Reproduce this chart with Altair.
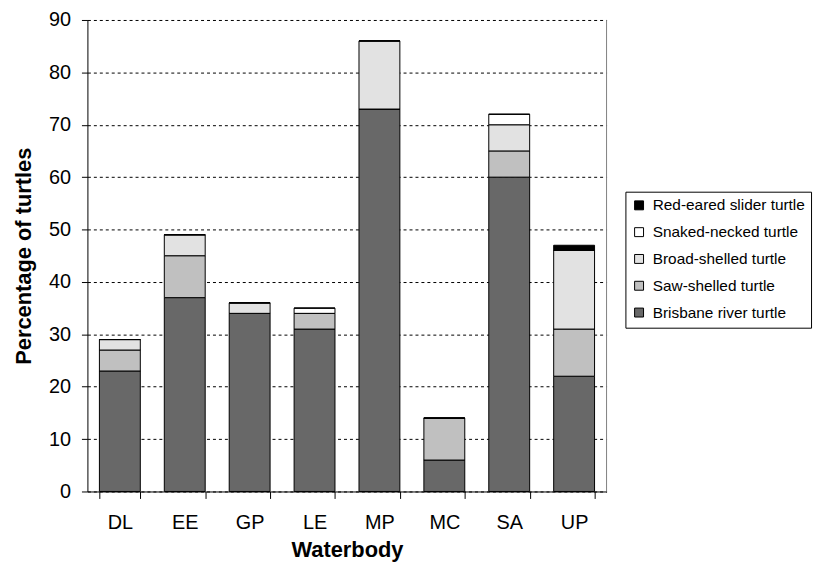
import altair as alt
import pandas as pd

waterbodies = ["DL", "EE", "GP", "LE", "MP", "MC", "SA", "UP"]
species = ["Brisbane river turtle", "Saw-shelled turtle", "Broad-shelled turtle",
           "Snaked-necked turtle", "Red-eared slider turtle"]
brisbane = [23, 37, 34, 31, 73, 6, 60, 22]
saw = [4, 8, 0, 3, 0, 8, 5, 9]
broad = [2, 4, 2, 0, 13, 0, 5, 15]
snaked = [0, 0, 0, 1, 0, 0, 2, 0]
red = [0, 0, 0, 0, 0, 0, 0, 1]
y_ticks = list(range(0, 91, 10))

series = [brisbane, saw, broad, snaked, red]
rows = []
for si, (sp, vals) in enumerate(zip(species, series)):
    for wb, v in zip(waterbodies, vals):
        rows.append({"Waterbody": wb, "Species": sp, "Value": v, "idx": si})
df = pd.DataFrame(rows)

legend_order = species[::-1]
fills = {"Red-eared slider turtle": "#000000", "Snaked-necked turtle": "#ffffff",
         "Broad-shelled turtle": "#e2e2e2", "Saw-shelled turtle": "#c0c0c0",
         "Brisbane river turtle": "#686868"}

W, H = 523, 475
FONT = "Liberation Sans"

bars = alt.Chart(df).mark_bar(stroke="black", strokeWidth=1).encode(
    x=alt.X("Waterbody:N", sort=waterbodies, title="Waterbody",
            scale=alt.Scale(paddingInner=0.37, paddingOuter=0.185),
            axis=alt.Axis(labelAngle=0, tickBand="extent", tickSize=7,
                          labelPadding=14, titlePadding=8, grid=False)),
    y=alt.Y("Value:Q", stack="zero", title="Percentage of turtles",
            scale=alt.Scale(domain=[0, 90], nice=False),
            axis=alt.Axis(values=y_ticks, tickSize=6, labelPadding=11, titlePadding=13,
                          grid=True, gridColor="black", gridDash=[3, 3], gridWidth=1)),
    fill=alt.Fill("Species:N", scale=alt.Scale(domain=legend_order,
                                                range=[fills[s] for s in legend_order]),
                  legend=alt.Legend(title=None, orient="none", legendX=542, legendY=173,
                                    symbolType="square", symbolSize=81,
                                    symbolStrokeColor="black", symbolStrokeWidth=1,
                                    labelFontSize=15.5, labelFont=FONT, labelColor="black",
                                    labelOffset=6, rowPadding=10,
                                    strokeColor="black", padding=6, fillColor="white",
                                    labelLimit=300)),
    order=alt.Order("idx:Q", sort="ascending"),
)

right_border = alt.Chart(pd.DataFrame({"a": [0]})).mark_rule(color="#808080").encode(
    x=alt.value(W), y=alt.value(0), y2=alt.value(H))

chart = (bars + right_border).properties(
    width=W, height=H,
    autosize=alt.AutoSizeParams(type="none"),
    padding={"left": 80, "top": 10, "right": 212, "bottom": 72},
).configure_view(stroke=None).configure_axis(
    labelFont=FONT, labelFontSize=20, labelColor="black",
    titleFont=FONT, titleFontSize=22, titleFontWeight="bold", titleColor="black",
    domainColor="black", tickColor="black", domainWidth=1,
)

chart.save("out.html", embed_options={"renderer": "svg", "actions": False})
